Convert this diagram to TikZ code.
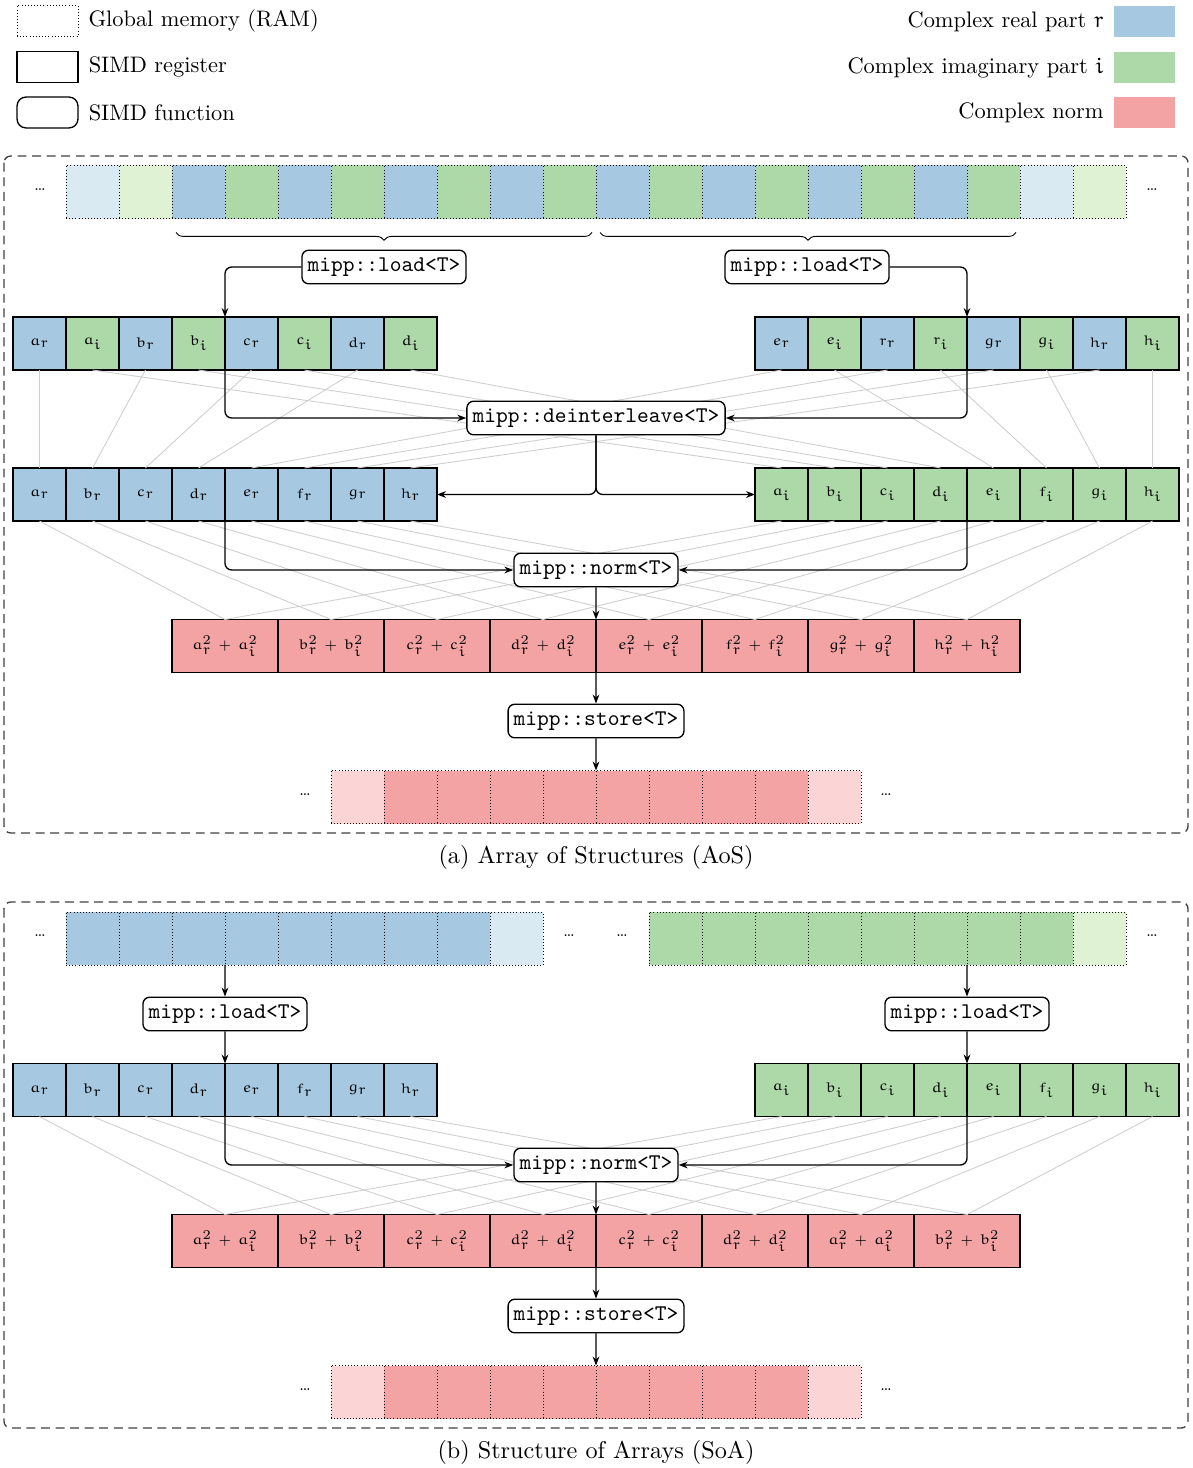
\documentclass[tikz,border=0pt]{standalone}
\usepackage{amsmath,amsfonts}
\usetikzlibrary{arrows.meta,positioning,decorations.pathreplacing,calc}
\definecolor{Cr}{HTML}{A6C8E0}
\definecolor{Ci}{HTML}{ADD8A8}
\definecolor{Cn}{HTML}{F3A3A4}
\definecolor{CrL}{HTML}{D9EAF3}
\definecolor{CiL}{HTML}{E0F2D4}
\definecolor{CnL}{HTML}{FBD5D6}
\definecolor{faint}{HTML}{CFCFCF}
\DeclareMathAlphabet{\mathEu}{U}{eur}{m}{n}
\DeclareMathSizes{6.3}{6.3}{6.3}{6.3}
\newlength{\cellw}
\setlength{\cellw}{23.66pt}
\tikzset{
  mcell/.style={draw, densely dotted, inner sep=0pt, outer sep=0pt, minimum size=\cellw},
  rcell/.style={draw, semithick, inner sep=0pt, outer sep=0pt, minimum size=\cellw,
    font=\fontsize{6.3}{7.5}\selectfont},
  ncell/.style={rcell, fill=Cn, minimum width=2\cellw},
  func/.style={draw, semithick, rounded corners=3pt, fill=white, font=\ttfamily,
    inner xsep=2.5pt, minimum height=15pt},
  link/.style={-{Stealth[length=4pt]}, semithick, rounded corners=3pt},
  perm/.style={faint, thin},
  lgbox/.style={minimum width=27.2pt, minimum height=13.8pt, inner sep=0pt},
  etc/.style={font=\scriptsize},
  panel/.style={draw, black!75, semithick, dash pattern=on 4pt off 2.5pt, rounded corners=3pt},
}
% rows of cells: name, left x, center y, list
\newcommand{\memrow}[4]{%
  \foreach \c [count=\i from 0] in {#4}
    \node[mcell, fill=\c] (#1-\i) at ({#2+26.5+53*\i},#3) {};}
\newcommand{\simdreg}[4]{%
  \foreach \l/\p [count=\i from 0] in {#4}
    \node[rcell, fill=C\p] (#1-\i) at ({#2+26.5+53*\i},#3) {$\mathEu{\l}_{\mathEu{\p}}$};}
\newcommand{\normrow}[4]{%
  \foreach \l [count=\i from 0] in {#4}
    \node[ncell] (#1-\i) at ({#2+53+106*\i},#3)
      {$\mathEu{\l}_{\mathEu{r}}^2\,+\,\mathEu{\l}_{\mathEu{i}}^2$};}

\begin{document}
\begin{tikzpicture}[x=0.4464pt, y=-0.4464pt]
  \useasboundingbox (0,0) rectangle (1192,1468);

  % legend
  \node[lgbox, draw, densely dotted] (lgmem) at (47.5,21) {};
  \node[right=1pt of lgmem] {Global memory (RAM)};
  \node[lgbox, draw, semithick] (lgreg) at (47.5,67) {};
  \node[right=1pt of lgreg] {SIMD register};
  \node[lgbox, draw, semithick, rounded corners=4pt] (lgfun) at (47.5,112.5) {};
  \node[right=1pt of lgfun] {SIMD function};
  \node[lgbox, fill=Cr] (lgr) at (1144.5,21.5) {};
  \node[left=1pt of lgr] {Complex real part $\mathEu{r}$};
  \node[lgbox, fill=Ci] (lgi) at (1144.5,67.5) {};
  \node[left=1pt of lgi] {Complex imaginary part $\mathEu{i}$};
  \node[lgbox, fill=Cn] (lgn) at (1144.5,112.5) {};
  \node[left=1pt of lgn] {Complex norm};

  %%% (a) AoS
  \draw[panel] (4,156) rectangle (1188,833);
  \node[font={\fontsize{10.8}{13}\selectfont}] (capa) at (596,857) {(a) Array of Structures (AoS)};

  \memrow{ma}{66}{192}{CrL,CiL,Cr,Ci,Cr,Ci,Cr,Ci,Cr,Ci,Cr,Ci,Cr,Ci,Cr,Ci,Cr,Ci,CrL,CiL}
  \node[etc] at (40,190) {\dots};
  \node[etc] at (1152,190) {\dots};
  \draw[decorate, decoration={brace, mirror, amplitude=3.5pt}]
    ($(ma-2.south west)+(4,14)$) -- ($(ma-9.south east)+(-4,14)$);
  \draw[decorate, decoration={brace, mirror, amplitude=3.5pt}]
    ($(ma-10.south west)+(4,14)$) -- ($(ma-17.south east)+(-4,14)$);

  \simdreg{ra}{13}{343.5}{a/r,a/i,b/r,b/i,c/r,c/i,d/r,d/i}
  \simdreg{rb}{755}{343.5}{e/r,e/i,r/r,r/i,g/r,g/i,h/r,h/i}
  \simdreg{rc}{13}{494.5}{a/r,b/r,c/r,d/r,e/r,f/r,g/r,h/r}
  \simdreg{rd}{755}{494.5}{a/i,b/i,c/i,d/i,e/i,f/i,g/i,h/i}
  \normrow{sa}{172}{646}{a,b,c,d,e,f,g,h}
  \memrow{oa}{331}{797}{CnL,Cn,Cn,Cn,Cn,Cn,Cn,Cn,Cn,CnL}
  \node[etc] at (305,795) {\dots};
  \node[etc] at (886,795) {\dots};

  % lanes
  \foreach \j in {0,...,3}{
    \pgfmathtruncatemacro\e{2*\j}
    \pgfmathtruncatemacro\o{2*\j+1}
    \pgfmathtruncatemacro\k{\j+4}
    \draw[perm] (ra-\e.south) -- (rc-\j.north);
    \draw[perm] (ra-\o.south) -- (rd-\j.north);
    \draw[perm] (rb-\e.south) -- (rc-\k.north);
    \draw[perm] (rb-\o.south) -- (rd-\k.north);}
  \foreach \j in {0,...,7}{
    \draw[perm] (rc-\j.south) -- (sa-\j.north);
    \draw[perm] (rd-\j.south) -- (sa-\j.north);}

  \node[func] (lda1) at (384,267) {mipp::load<T>};
  \node[func] (lda2) at (807,267) {mipp::load<T>};
  \node[func] (dint) at (596,418) {mipp::deinterleave<T>};
  \node[func] (nrma) at (596,570) {mipp::norm<T>};
  \node[func] (sta) at (596,721) {mipp::store<T>};

  \draw[link] (lda1.west) -| (ra-4.north west);
  \draw[link] (lda2.east) -| (rb-4.north west);
  \draw[link] (ra-4.south west) |- (dint.west);
  \draw[link] (rb-4.south west) |- (dint.east);
  \draw[link] (dint.south) |- (rc-7.east);
  \draw[link] (dint.south) |- (rd-0.west);
  \draw[link] (rc-4.south west) |- (nrma.west);
  \draw[link] (rd-4.south west) |- (nrma.east);
  \draw[link] (nrma.south) -- (sa-4.north west);
  \draw[link] (sa-4.south west) -- (sta.north);
  \draw[link] (sta.south) -- (oa-5.north west);

  %%% (b) SoA
  \draw[panel] (4,902) rectangle (1188,1428);
  \node[font={\fontsize{10.8}{13}\selectfont}] (capb) at (596,1452) {(b) Structure of Arrays (SoA)};

  \memrow{mb}{66}{938.5}{Cr,Cr,Cr,Cr,Cr,Cr,Cr,Cr,CrL}
  \memrow{mg}{649}{938.5}{Ci,Ci,Ci,Ci,Ci,Ci,Ci,Ci,CiL}
  \node[etc] at (40,936) {\dots};
  \node[etc] at (569,936) {\dots};
  \node[etc] at (622,936) {\dots};
  \node[etc] at (1152,936) {\dots};

  \simdreg{re}{13}{1090}{a/r,b/r,c/r,d/r,e/r,f/r,g/r,h/r}
  \simdreg{rf}{755}{1090}{a/i,b/i,c/i,d/i,e/i,f/i,g/i,h/i}
  \normrow{sb}{172}{1241}{a,b,c,d,c,d,a,b}
  \memrow{ob}{331}{1392}{CnL,Cn,Cn,Cn,Cn,Cn,Cn,Cn,Cn,CnL}
  \node[etc] at (305,1390) {\dots};
  \node[etc] at (886,1390) {\dots};

  \foreach \j in {0,...,7}{
    \draw[perm] (re-\j.south) -- (sb-\j.north);
    \draw[perm] (rf-\j.south) -- (sb-\j.north);}

  \node[func] (ldb1) at (225,1014) {mipp::load<T>};
  \node[func] (ldb2) at (967,1014) {mipp::load<T>};
  \node[func] (nrmb) at (596,1165) {mipp::norm<T>};
  \node[func] (stb) at (596,1316) {mipp::store<T>};

  \draw[link] (mb-3.south west) -- (ldb1.north);
  \draw[link] (mg-6.south west) -- (ldb2.north);
  \draw[link] (ldb1.south) -- (re-4.north west);
  \draw[link] (ldb2.south) -- (rf-4.north west);
  \draw[link] (re-4.south west) |- (nrmb.west);
  \draw[link] (rf-4.south west) |- (nrmb.east);
  \draw[link] (nrmb.south) -- (sb-4.north west);
  \draw[link] (sb-4.south west) -- (stb.north);
  \draw[link] (stb.south) -- (ob-5.north west);
\end{tikzpicture}
\end{document}
